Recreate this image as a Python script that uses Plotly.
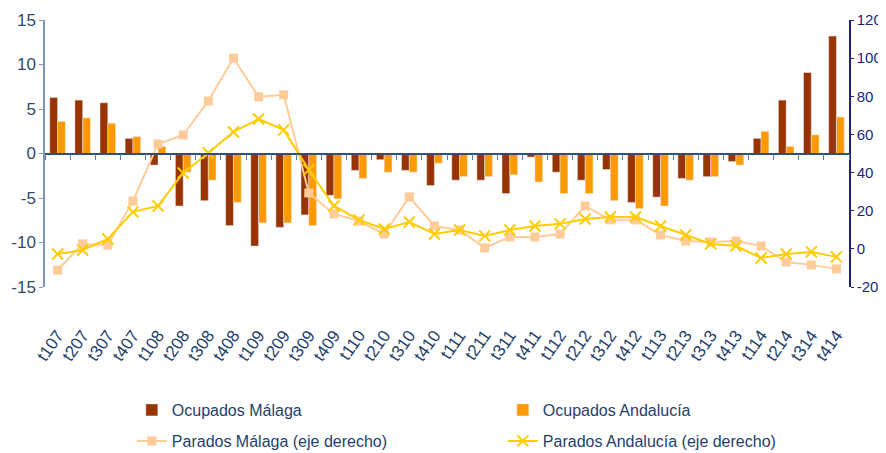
import plotly.graph_objects as go

trimestres = ['t107', 't207', 't307', 't407', 't108', 't208', 't308', 't408',
              't109', 't209', 't309', 't409', 't110', 't210', 't310', 't410',
              't111', 't211', 't311', 't411', 't112', 't212', 't312', 't412',
              't113', 't213', 't313', 't413', 't114', 't214', 't314', 't414']

# variacion interanual (%) - eje izquierdo
ocupados_malaga = [6.3, 6.0, 5.7, 1.7, -1.3, -5.9, -5.3, -8.1,
                   -10.4, -8.3, -6.9, -4.7, -1.9, -0.7, -1.9, -3.6,
                   -3.0, -3.0, -4.5, -0.4, -2.1, -3.0, -1.8, -5.5,
                   -4.9, -2.8, -2.6, -0.9, 1.7, 6.0, 9.1, 13.2]
ocupados_andalucia = [3.6, 4.0, 3.4, 1.9, 0.8, -2.1, -3.0, -5.5,
                      -7.8, -7.8, -8.1, -5.1, -2.8, -2.1, -2.1, -1.1,
                      -2.6, -2.6, -2.4, -3.2, -4.5, -4.5, -5.3, -6.2,
                      -5.9, -3.0, -2.6, -1.3, 2.5, 0.8, 2.1, 4.1]

# eje derecho
parados_malaga = [-11.1, 2.6, 2.0, 25.1, 55.0, 59.7, 77.5, 100.0,
                  79.7, 80.8, 29.3, 18.3, 14.6, 7.8, 27.2, 12.0,
                  9.9, 0.5, 6.2, 6.2, 7.8, 22.5, 15.2, 15.2,
                  7.3, 4.1, 3.6, 4.1, 1.5, -6.9, -8.4, -10.5]
parados_andalucia = [-2.7, -0.6, 5.2, 19.4, 22.5, 39.8, 50.3, 61.3,
                     68.1, 62.4, 41.4, 22.5, 15.2, 10.4, 14.1, 7.8,
                     9.9, 6.8, 9.9, 12.0, 13.1, 15.7, 16.7, 16.7,
                     12.0, 7.3, 2.6, 1.5, -4.8, -2.7, -1.6, -4.2]

# etiquetas de los ejes (con guion normal, como en el original)
ticks_izq = [-15, -10, -5, 0, 5, 10, 15]
ticks_der = [-20, 0, 20, 40, 60, 80, 100, 120]

fuente = "Liberation Sans Narrow, Arial Narrow, Liberation Sans, sans-serif"
azul = '#1f3f6b'
navy = '#1a1f80'

fig = go.Figure()
fig.add_trace(go.Bar(x=trimestres, y=ocupados_malaga, name='Ocupados Málaga',
                     marker_color='#993300', xaxis='x', yaxis='y', legend='legend'))
fig.add_trace(go.Bar(x=trimestres, y=ocupados_andalucia, name='Ocupados Andalucía',
                     marker_color='#FF9900', xaxis='x', yaxis='y', legend='legend'))
fig.add_trace(go.Scatter(x=trimestres, y=parados_malaga, name='Parados Málaga (eje derecho)',
                         mode='lines+markers', line=dict(color='#FFCC99', width=2),
                         marker=dict(symbol='square', size=9, color='#FFCC99'),
                         xaxis='x2', yaxis='y2', legend='legend2'))
fig.add_trace(go.Scatter(x=trimestres, y=parados_andalucia, name='Parados Andalucía (eje derecho)',
                         mode='lines+markers', line=dict(color='#FFCC00', width=2),
                         marker=dict(symbol='x-thin-open', size=11,
                                     line=dict(color='#FFCC00', width=2)),
                         xaxis='x2', yaxis='y2', legend='legend2'))

# la pagina tiene 8px de margen en el body, de ahi 878x445
fig.update_layout(
    width=878, height=445,
    margin=dict(l=37, r=37, t=12, b=166),
    plot_bgcolor='white', paper_bgcolor='white',
    font=dict(family=fuente, size=15, color=azul),
    barmode='group', bargap=0.38, bargroupgap=0,
    xaxis=dict(type='category', categoryorder='array', categoryarray=trimestres,
               anchor='free', position=0.5, showline=True, linecolor='#2f4f77',
               linewidth=1.5, ticks='outside', tickson='boundaries', ticklen=6,
               tickcolor='#5b7aa0', showticklabels=False, showgrid=False,
               range=[-0.5, 31.5], automargin=False),
    xaxis2=dict(type='category', categoryorder='array', categoryarray=trimestres,
                overlaying='x', anchor='y', side='bottom', showline=False,
                ticks='', showgrid=False, tickangle=-55, range=[-0.5, 31.5],
                ticklabelstandoff=34, automargin=False,
                tickfont=dict(size=17, color=azul)),
    yaxis=dict(range=[-15, 15], tickvals=ticks_izq,
               ticktext=[str(v) for v in ticks_izq], showgrid=False,
               zeroline=False, showline=True, linecolor='#7f95b5', linewidth=1.5,
               ticks='outside', ticklen=4, tickcolor='#7f95b5', automargin=False,
               tickfont=dict(size=17, color='#2e4a6e')),
    yaxis2=dict(range=[-20, 120], tickvals=ticks_der,
                ticktext=[str(v) for v in ticks_der], overlaying='y', side='right',
                anchor='x2', showgrid=False, zeroline=False, showline=True,
                linecolor=navy, linewidth=1.5, ticks='outside', ticklen=3,
                tickcolor=navy, automargin=False,
                tickfont=dict(size=15, color=navy)),
    legend=dict(orientation='h', x=0.108, xanchor='left', yref='container',
                y=0.0966, yanchor='middle',
                entrywidth=326, entrywidthmode='pixels',
                font=dict(size=16, color=azul), bgcolor='rgba(0,0,0,0)'),
    legend2=dict(orientation='h', x=0.108, xanchor='left', yref='container',
                 y=0.027, yanchor='middle',
                 entrywidth=326, entrywidthmode='pixels',
                 font=dict(size=16, color=azul), bgcolor='rgba(0,0,0,0)'),
)

fig.write_html("out.html")
